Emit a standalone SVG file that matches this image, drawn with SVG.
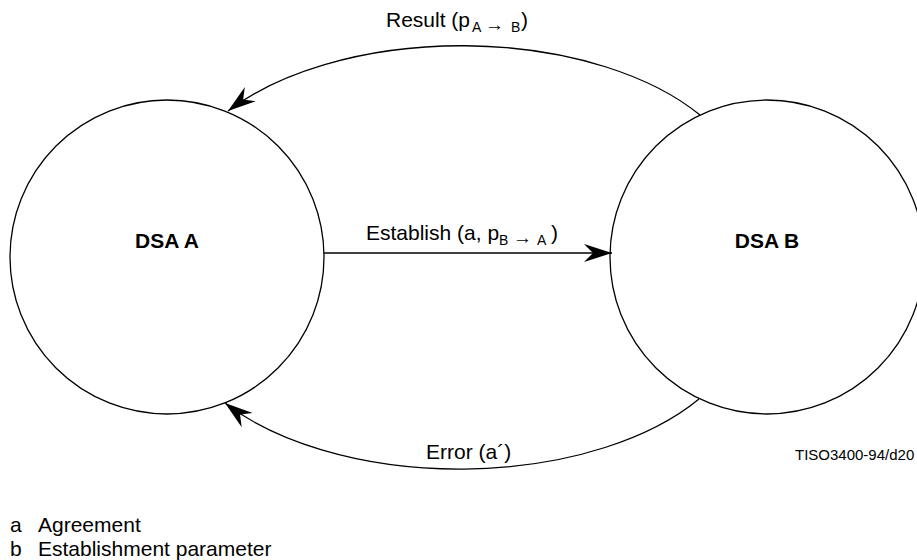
<svg xmlns="http://www.w3.org/2000/svg" width="917" height="560" viewBox="0 0 917 560">
<defs>
<style>
.node{fill:none;stroke:#000;stroke-width:1.3}
.conn{fill:none;stroke:#000;stroke-width:1.3}
text{font-family:"Liberation Sans",Arial,sans-serif;fill:#000}
.lbl{font-size:21px}
.sub{font-size:14px}
.arr{font-size:19px}
.bold{font-size:21px;font-weight:bold}
.small{font-size:15px}
</style>
<marker id="ah" markerUnits="userSpaceOnUse" markerWidth="32" markerHeight="22" viewBox="-30 -11 32 22" refX="0" refY="0" orient="auto">
<path d="M0,0 L-28,-9 L-19,0 L-28,9 Z" fill="#000"/>
</marker>
</defs>
<g id="dsaA">
<circle class="node" cx="167" cy="257" r="157"/>
<text class="bold" x="167" y="248" text-anchor="middle">DSA A</text>
</g>
<g id="dsaB">
<circle class="node" cx="767" cy="257" r="157"/>
<text class="bold" x="767" y="248" text-anchor="middle">DSA B</text>
</g>
<g id="connectors">
<path class="conn" d="M700,115 A287,156 0 0 0 228,111" marker-end="url(#ah)"/>
<path class="conn" d="M699,399 A287,156 0 0 1 225,403" marker-end="url(#ah)"/>
<path class="conn" d="M324,253 L612,253" marker-end="url(#ah)"/>
</g>
<g id="labels">
<text class="lbl" x="386" y="27">Result (p</text>
<text class="sub" x="472" y="32">A</text>
<text class="arr" x="485" y="31">→</text>
<text class="sub" x="511" y="32">B</text>
<text class="lbl" x="521" y="27">)</text>
<text class="lbl" x="366" y="240">Establish (a, p</text>
<text class="sub" x="499" y="245">B</text>
<text class="arr" x="513" y="244">→</text>
<text class="sub" x="537" y="245">A</text>
<text class="lbl" x="551" y="240">)</text>
<text class="lbl" x="426" y="459">Error (a´)</text>
<text class="small" x="795" y="460">TISO3400-94/d20</text>
</g>
<g id="legend">
<text class="lbl" x="10" y="532">a</text>
<text class="lbl" x="38" y="532">Agreement</text>
<text class="lbl" x="10" y="556">b</text>
<text class="lbl" x="38" y="556">Establishment parameter</text>
</g>
</svg>
